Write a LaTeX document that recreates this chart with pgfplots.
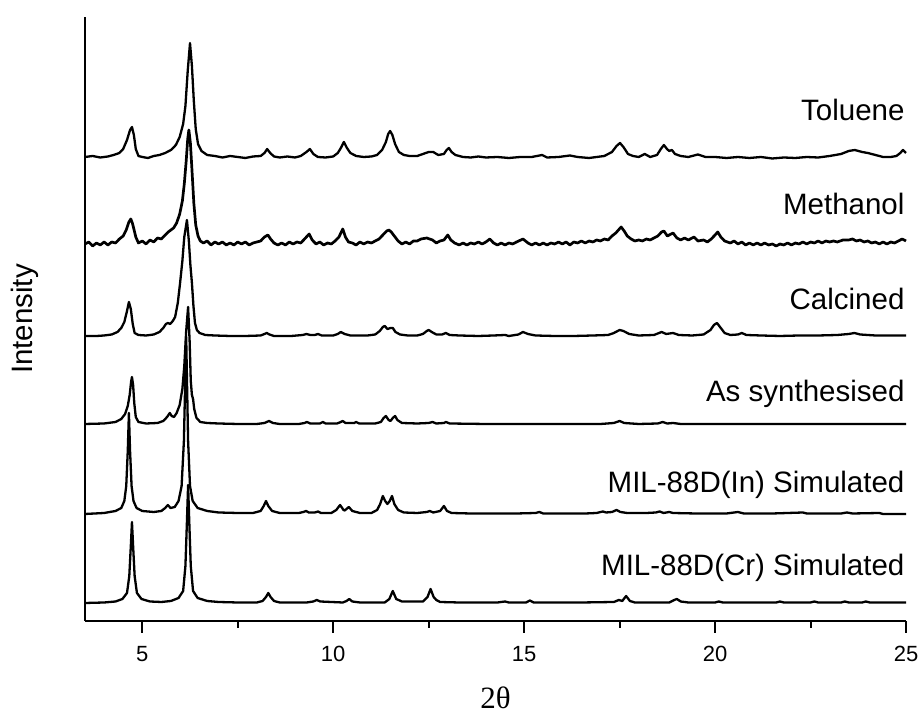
\documentclass[border=0pt]{standalone}
\usepackage{fontspec}
\setmainfont{Liberation Sans}
\newfontfamily\serifgreek{Liberation Serif}
\usepackage{pgfplots}
\pgfplotsset{compat=1.18}
\pgfplotsset{xrd/.style={black, solid, line width=1.15pt, line join=round, mark=none}}
\begin{document}
\begin{tikzpicture}
\begin{axis}[
  scale only axis, width=410.5pt, height=302pt,
  xmin=3.5, xmax=25, ymin=0, ymax=604,
  axis x line*=bottom, axis y line*=left,
  ytick=\empty,
  xtick={5,10,15,20,25},
  minor xtick={7.5,12.5,17.5,22.5},
  tick align=outside,
  major tick length=6pt, minor tick length=3.5pt,
  axis line style={line width=1pt, black},
  every tick/.style={line width=1pt, black},
  /pgf/number format/assume math mode=true,
  xticklabel style={font=\fontsize{11}{12}\selectfont, yshift=-3pt},
  xlabel={{\serifgreek 2θ}},
  xlabel style={font=\fontsize{15.5}{18}\selectfont, at={(axis description cs:0.5,-0.128)}, anchor=center},
  ylabel={Intensity},
  ylabel style={font=\fontsize{14.75}{17}\selectfont, at={(axis description cs:-0.073,0.5)}, anchor=center},
  clip=false,
]
% Toluene
\addplot[xrd] coordinates {(3.5,464)(3.7,465)(3.9,463.5)(4.1,464.5)(4.25,466)(4.4,468)(4.5,472)(4.6,481)(4.68,491)(4.73,494)(4.78,486)(4.83,472)(4.9,465)(5.0,464)(5.15,463)(5.3,465)(5.45,466)(5.6,468)(5.75,471)(5.88,476)(5.98,484)(6.07,497)(6.13,515)(6.19,550)(6.25,578)(6.3,555)(6.35,520)(6.4,492)(6.46,477)(6.55,470)(6.7,466)(6.9,465)(7.1,463.5)(7.3,465)(7.5,464)(7.7,463)(7.9,464.5)(8.1,465)(8.2,468)(8.27,472)(8.35,468)(8.45,464.5)(8.6,463.5)(8.8,464.5)(9.0,463.5)(9.15,465)(9.3,469)(9.39,472)(9.48,467)(9.6,464)(9.8,463.5)(10.0,464.5)(10.12,468)(10.2,473)(10.28,479)(10.36,473)(10.45,468)(10.6,465)(10.8,464)(11.0,464.5)(11.15,466)(11.28,471)(11.38,479)(11.44,487)(11.49,490)(11.55,486)(11.62,477)(11.72,469)(11.85,466)(12.0,465)(12.2,465)(12.35,467)(12.5,469)(12.62,469)(12.75,466)(12.9,467)(12.97,471)(13.03,473)(13.1,469)(13.2,466)(13.4,464)(13.6,463.5)(13.8,464.5)(14.0,463.5)(14.3,464)(14.6,463)(14.9,464)(15.2,464)(15.47,466)(15.6,463.5)(15.9,464)(16.2,465.5)(16.4,464)(16.7,463)(16.9,464)(17.1,465)(17.3,469)(17.42,475)(17.51,478)(17.6,474)(17.72,467)(17.85,465)(18.0,464)(18.16,467)(18.3,464)(18.48,466)(18.58,472)(18.66,476)(18.74,472)(18.8,470)(18.87,471)(18.95,467)(19.1,465)(19.3,464)(19.55,466.5)(19.75,464)(20.0,464)(20.3,463)(20.6,464)(20.9,463)(21.2,464)(21.5,462.5)(21.8,463.5)(22.1,463)(22.4,464)(22.7,463.5)(23.0,465)(23.3,467)(23.5,470)(23.66,471)(23.85,469)(24.0,468)(24.2,466)(24.4,464)(24.6,464)(24.75,465)(24.85,468)(24.92,471)(25.0,468)};
% Methanol
\addplot[xrd, line width=1.35pt] coordinates {(3.5,377)(3.6,379)(3.7,375)(3.8,378)(3.9,376)(4.0,379)(4.1,376)(4.2,379)(4.3,378)(4.4,382)(4.5,385)(4.58,391)(4.65,399)(4.7,402)(4.74,398)(4.78,392)(4.83,384)(4.9,378)(5.0,380)(5.1,377)(5.2,381)(5.3,379)(5.4,383)(5.5,382)(5.6,386)(5.68,389)(5.75,391)(5.82,393)(5.9,398)(5.98,407)(6.05,420)(6.1,437)(6.15,460)(6.19,482)(6.22,491)(6.26,478)(6.3,452)(6.35,418)(6.4,396)(6.46,385)(6.52,380)(6.6,378)(6.7,380)(6.8,376)(6.9,379)(7.0,377)(7.1,379)(7.2,376)(7.3,378)(7.4,376)(7.5,379)(7.6,377)(7.7,379)(7.8,376)(7.9,378)(8.0,379)(8.1,380)(8.2,384)(8.29,386)(8.36,382)(8.45,378)(8.55,376)(8.65,378)(8.75,376)(8.85,379)(8.95,377)(9.05,379)(9.15,378)(9.25,382)(9.37,387)(9.45,381)(9.55,377)(9.65,379)(9.75,376)(9.85,378)(9.95,377)(10.05,380)(10.15,384)(10.25,392)(10.32,384)(10.4,379)(10.5,378)(10.6,376)(10.7,379)(10.8,377)(10.9,379)(11.0,378)(11.1,380)(11.2,382)(11.3,386)(11.4,390)(11.46,391)(11.52,389)(11.6,385)(11.7,380)(11.8,377)(11.9,379)(12.0,377)(12.1,380)(12.2,380)(12.3,382)(12.45,383)(12.6,381)(12.7,378)(12.8,380)(12.9,381)(13.0,386)(13.08,381)(13.18,378)(13.3,376)(13.4,378)(13.5,376)(13.6,378)(13.7,377)(13.8,379)(13.9,377)(14.0,379)(14.1,382)(14.2,378)(14.3,376)(14.4,378)(14.5,376)(14.6,378)(14.7,377)(14.8,379)(14.97,382)(15.1,378)(15.2,376)(15.3,378)(15.4,376)(15.5,378)(15.6,376)(15.7,378)(15.8,377)(15.9,379)(16.0,377)(16.1,379)(16.2,376)(16.3,379)(16.4,378)(16.5,380)(16.6,378)(16.7,380)(16.8,379)(16.9,381)(17.0,380)(17.1,382)(17.2,381)(17.3,385)(17.4,388)(17.54,394)(17.62,390)(17.7,385)(17.8,382)(17.9,380)(18.0,381)(18.1,380)(18.2,382)(18.3,381)(18.4,383)(18.5,385)(18.6,389)(18.66,390)(18.75,385)(18.9,388)(19.0,383)(19.1,381)(19.2,383)(19.3,381)(19.45,384)(19.55,380)(19.7,381)(19.8,379)(19.9,382)(20.0,386)(20.07,389)(20.15,384)(20.25,380)(20.4,378)(20.5,380)(20.6,377)(20.7,379)(20.8,376)(20.9,378)(21.0,376)(21.1,378)(21.2,376)(21.3,378)(21.4,376)(21.5,377)(21.6,375)(21.7,377)(21.8,376)(21.9,378)(22.0,376)(22.1,378)(22.2,377)(22.3,379)(22.4,377)(22.5,379)(22.6,378)(22.7,380)(22.8,378)(22.9,380)(23.0,379)(23.1,380)(23.2,379)(23.35,381)(23.5,381)(23.6,382)(23.7,380)(23.8,381)(23.9,379)(24.0,380)(24.1,378)(24.2,379)(24.3,377)(24.4,379)(24.5,377)(24.6,379)(24.7,378)(24.8,380)(24.9,382)(25.0,380)};
% Calcined
\addplot[xrd] coordinates {(3.5,285)(3.8,285)(4.0,285.5)(4.2,286.5)(4.35,289)(4.45,293)(4.53,299)(4.6,310)(4.65,319)(4.7,312)(4.75,297)(4.8,288)(4.9,286)(5.1,285.5)(5.3,286.5)(5.45,289)(5.55,293)(5.62,297)(5.67,298)(5.73,297)(5.8,300)(5.86,304)(5.93,318)(5.99,338)(6.05,360)(6.1,384)(6.17,401)(6.22,380)(6.26,356)(6.3,338)(6.34,315)(6.38,298)(6.43,291)(6.5,288)(6.65,286)(6.9,285.5)(7.3,285)(7.7,285)(8.1,285.5)(8.2,287)(8.26,288)(8.33,286.5)(8.45,285)(8.9,285)(9.2,286)(9.3,287)(9.4,286)(9.52,286)(9.6,287)(9.7,285.5)(10.0,285.5)(10.12,287)(10.2,289)(10.3,287)(10.45,285.5)(10.9,285.5)(11.1,286.5)(11.22,290)(11.3,294)(11.35,295)(11.42,292)(11.5,293)(11.56,293)(11.63,289)(11.75,286.5)(11.95,285.5)(12.2,285.5)(12.35,287)(12.45,290)(12.5,291)(12.58,289)(12.7,286.5)(12.85,286.5)(12.95,288)(13.05,286)(13.3,285.5)(13.8,285)(14.2,285.5)(14.5,286)(14.6,285)(14.85,286.5)(14.97,289)(15.1,287)(15.3,285.5)(15.8,285)(16.3,285)(16.8,285.5)(17.2,286)(17.35,288)(17.5,291)(17.6,290)(17.75,287)(18.0,285.5)(18.4,286)(18.6,289)(18.72,287)(18.9,288)(19.05,286)(19.4,285.5)(19.7,286.5)(19.88,291)(19.97,296)(20.05,298)(20.13,294)(20.25,288)(20.4,286)(20.6,286.5)(20.7,288)(20.82,286)(21.2,285.5)(21.7,285)(22.2,285.5)(22.7,285.5)(23.2,286)(23.5,287)(23.65,288)(23.8,286.5)(24.2,285.5)(24.6,285.5)(25.0,285.5)};
% As synthesised
\addplot[xrd] coordinates {(3.5,197)(4.0,197.5)(4.3,199)(4.45,202)(4.55,207)(4.62,215)(4.67,226)(4.71,240)(4.73,244)(4.76,236)(4.79,218)(4.83,204)(4.9,199)(5.1,197.5)(5.4,198)(5.55,200)(5.65,204)(5.72,208)(5.77,205)(5.83,204)(5.9,208)(5.98,216)(6.05,232)(6.1,255)(6.15,290)(6.2,314)(6.24,280)(6.27,240)(6.3,226)(6.33,222)(6.36,212)(6.42,203)(6.52,199)(6.7,198)(7.0,197.5)(7.5,197)(8.0,197)(8.2,198)(8.32,200)(8.42,198)(8.6,197)(9.1,197)(9.25,198)(9.31,199)(9.4,197.5)(9.65,197.5)(9.73,199)(9.8,197.5)(10.1,197.5)(10.2,199)(10.25,200)(10.32,198)(10.55,198)(10.6,199)(10.68,197.5)(11.1,197.5)(11.25,199)(11.32,203)(11.38,205)(11.45,201)(11.5,200)(11.56,203)(11.62,205)(11.68,201)(11.8,198)(12.2,197.5)(12.5,198)(12.6,199)(12.7,197.5)(12.9,198)(12.95,199)(13.05,197.5)(14,197)(15,197)(16,197)(17,197)(17.35,198)(17.5,200)(17.62,198)(18,197)(18.5,197.5)(18.63,199)(18.75,197.5)(18.9,198)(19.1,197)(20,197)(21,197)(22,197)(23,197)(24,197)(25,197)};
% MIL-88D(In) simulated
\addplot[xrd] coordinates {(3.5,107)(4.0,108)(4.3,110)(4.45,113)(4.53,120)(4.58,135)(4.62,170)(4.65,208)(4.68,170)(4.72,135)(4.77,120)(4.85,113)(5.0,110)(5.3,109)(5.5,110)(5.6,113)(5.67,116)(5.74,113)(5.85,114)(5.95,120)(6.03,135)(6.09,180)(6.15,284)(6.2,180)(6.25,135)(6.32,120)(6.45,113)(6.7,110)(7.0,108.5)(7.5,108)(7.9,108)(8.1,110)(8.18,115)(8.24,120)(8.3,115)(8.4,110)(8.6,108)(9.1,108)(9.22,109)(9.29,110)(9.36,108.5)(9.52,108.5)(9.6,109.5)(9.68,108)(9.95,108)(10.08,111)(10.18,116)(10.27,111)(10.3,110.5)(10.41,114)(10.5,110)(10.7,108)(11.0,108)(11.15,111)(11.23,117)(11.3,125)(11.36,120)(11.42,117)(11.48,120)(11.54,125)(11.6,117)(11.7,111)(11.85,108.5)(12.2,108)(12.45,109)(12.53,110)(12.62,108.5)(12.8,110)(12.9,115)(12.98,110)(13.1,108)(13.6,107.5)(14.2,107.5)(14.8,107.5)(15.3,108)(15.4,109)(15.5,107.5)(16,107.5)(16.6,107.5)(16.9,108)(17.06,109.5)(17.15,108.5)(17.3,109)(17.42,111)(17.52,109)(17.7,108)(18.2,108)(18.45,108.5)(18.55,109.5)(18.65,108)(18.8,109)(18.9,108)(19.5,107.5)(20.3,107.5)(20.6,109)(20.75,107.5)(21.5,107.5)(22.3,108.5)(22.4,107.5)(23.3,107.5)(23.45,108.5)(23.6,107.5)(24.3,108)(24.4,107)(25,107)};
% MIL-88D(Cr) simulated
\addplot[xrd] coordinates {(3.5,18)(4.0,18.5)(4.3,19.5)(4.48,22)(4.6,28)(4.66,45)(4.7,75)(4.73,99)(4.76,75)(4.8,45)(4.86,28)(4.98,22)(5.2,19.5)(5.5,19)(5.75,20)(5.95,23)(6.07,30)(6.13,55)(6.17,100)(6.2,136)(6.23,100)(6.27,55)(6.33,30)(6.45,23)(6.7,20)(7.0,19)(7.5,18.5)(8.0,18.5)(8.15,20)(8.24,24)(8.3,28)(8.36,24)(8.45,20)(8.6,18.5)(9.3,18.5)(9.48,19.5)(9.57,21)(9.66,19.5)(10.25,18.5)(10.35,20)(10.42,22)(10.5,19.5)(10.7,18.5)(11.35,18.5)(11.47,22)(11.56,30)(11.65,22)(11.8,19.5)(12.35,19.5)(12.47,24)(12.55,32)(12.63,24)(12.7,21)(12.8,19)(13.3,18.5)(14.3,18.5)(14.5,19.5)(14.6,18.5)(15.05,18.5)(15.15,20.5)(15.25,18.5)(16.5,18.5)(17.35,19)(17.48,21)(17.57,20)(17.67,25)(17.77,20)(17.9,18.5)(18.8,18.5)(18.93,21)(19.0,22)(19.1,19.5)(19.3,18.5)(20.0,18.5)(20.1,19.5)(20.2,18.5)(21.6,18.5)(21.7,19.5)(21.8,18.5)(22.5,18.5)(22.6,19.5)(22.7,18.5)(23.3,18.5)(23.4,19.5)(23.5,18.5)(23.85,18.5)(23.95,19.5)(24.05,18.5)(25,18.5)};
\begin{scope}[every node/.style={anchor=base east, inner sep=0pt, font=\fontsize{14.75}{17}\selectfont}]
\node at (axis cs:24.97,500) {Toluene};
\node at (axis cs:24.97,406) {Methanol};
\node at (axis cs:24.97,311) {Calcined};
\node at (axis cs:24.97,219) {As synthesised};
\node at (axis cs:24.97,128) {MIL-88D(In) Simulated};
\node at (axis cs:24.97,45) {MIL-88D(Cr) Simulated};
\end{scope}
\end{axis}
\pgfresetboundingbox
\path (-42.5pt,-47.5pt) rectangle (418.5pt,310.5pt);
\end{tikzpicture}
\end{document}
